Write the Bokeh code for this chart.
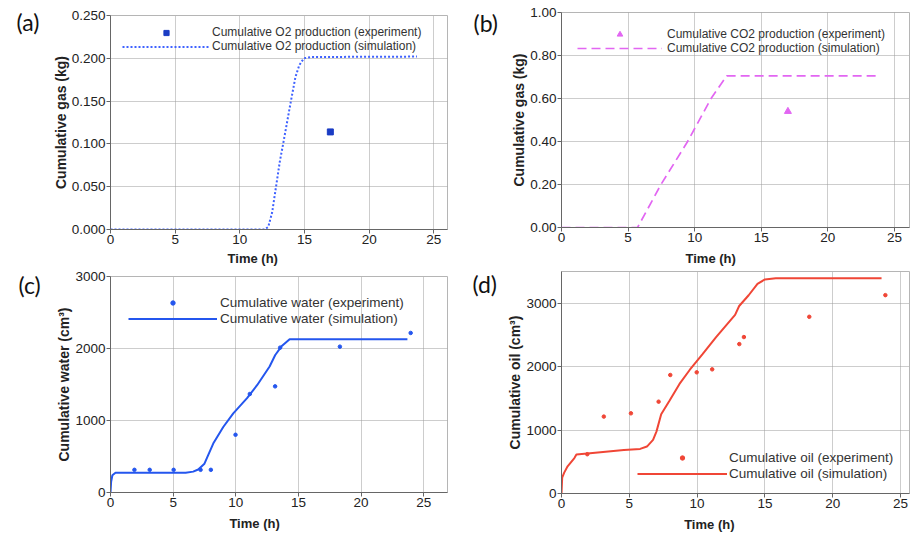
from bokeh.plotting import figure
from bokeh.layouts import row, column
from bokeh.models import Legend, LegendItem, Label, FixedTicker, NumeralTickFormatter, Range1d
from bokeh.embed import file_html
from bokeh.resources import INLINE

# ---------------- data ----------------
x_ticks = [0, 5, 10, 15, 20, 25]

# (a) O2
o2_exp_t = [17.0]
o2_exp_v = [0.114]
o2_sim_t = [0, 5.7, 11.9, 12.2, 12.5, 12.8, 13.1, 13.35, 13.65, 13.95, 14.3, 14.6, 14.95, 15.5, 23.7]
o2_sim_v = [0, 0, 0, 0.003, 0.02, 0.05, 0.08, 0.10, 0.125, 0.15, 0.178, 0.192, 0.200, 0.2015, 0.202]
o2_y_ticks = [0, 0.05, 0.10, 0.15, 0.20, 0.25]

# (b) CO2
co2_exp_t = [17.0]
co2_exp_v = [0.54]
co2_sim_t = [0, 5.71, 7.47, 9.47, 11.23, 12.4, 23.7]
co2_sim_v = [0, 0, 0.20, 0.40, 0.60, 0.705, 0.705]
co2_y_ticks = [0, 0.2, 0.4, 0.6, 0.8, 1.0]

# (c) water
water_exp_t = [1.91, 3.13, 5.04, 7.19, 8.01, 9.98, 11.12, 13.14, 13.54, 18.31, 23.96]
water_exp_v = [315, 315, 315, 315, 315, 802, 1368, 1474, 2012, 2026, 2216]
water_sim_t = [0, 0.05, 0.15, 0.4, 6.0, 6.6, 7.0, 7.5, 8.2, 9.0, 9.8, 10.9, 11.7, 12.7, 13.15, 13.65, 14.3, 23.7]
water_sim_v = [0, 150, 240, 275, 275, 290, 320, 400, 680, 910, 1100, 1310, 1490, 1750, 1910, 2030, 2130, 2130]
water_y_ticks = [0, 1000, 2000, 3000]

# (d) oil
oil_exp_t = [1.9, 3.12, 5.12, 7.16, 8.02, 9.97, 11.11, 13.11, 13.45, 18.27, 23.88]
oil_exp_v = [620, 1214, 1266, 1450, 1871, 1913, 1960, 2359, 2470, 2790, 3132]
oil_sim_t = [0, 0.05, 0.2, 0.45, 0.95, 1.1, 2.1, 4.6, 5.8, 6.3, 6.75, 7.0, 7.35, 7.95, 8.7, 9.45, 10.4,
             11.4, 12.8, 13.1, 13.8, 14.45, 15.0, 15.8, 23.6]
oil_sim_v = [0, 250, 330, 430, 560, 615, 636, 688, 704, 741, 846, 977, 1250, 1460, 1730, 1950, 2200,
             2470, 2820, 2960, 3130, 3310, 3380, 3400, 3400]
oil_y_ticks = [0, 1000, 2000, 3000]

FONT = "Liberation Sans"


def make_fig(w, h, bl, br, bt, bb, xend, yend, yticks, yfmt, ytitle):
    p = figure(width=w, height=h, output_backend="svg", toolbar_location=None,
               x_range=Range1d(0, xend), y_range=Range1d(0, yend),
               min_border_left=bl, min_border_right=br, min_border_top=bt, min_border_bottom=bb)
    p.outline_line_color = "#b5b5b5"
    p.background_fill_color = "white"
    p.border_fill_color = "white"
    p.xaxis.ticker = FixedTicker(ticks=x_ticks)
    p.yaxis.ticker = FixedTicker(ticks=yticks)
    p.yaxis.formatter = NumeralTickFormatter(format=yfmt)
    for ax in (p.xaxis[0], p.yaxis[0]):
        ax.axis_line_color = "#666666"
        ax.major_tick_line_color = "#666666"
        ax.major_tick_out = 4
        ax.major_tick_in = 0
        ax.minor_tick_line_color = None
        ax.major_label_standoff = 1
        ax.major_label_text_font = FONT
        ax.major_label_text_font_size = "13.5px"
        ax.major_label_text_color = "#222222"
    p.yaxis.axis_label = ytitle
    p.yaxis.axis_label_text_font = FONT
    p.yaxis.axis_label_text_font_size = "14px"
    p.yaxis.axis_label_text_font_style = "bold"
    p.yaxis.axis_label_text_color = "#222222"
    p.yaxis.axis_label_standoff = 0
    for g in (p.xgrid[0], p.ygrid[0]):
        g.grid_line_color = "#9a9a9a"
        g.grid_line_dash = "1 1"
        g.grid_line_width = 1
    return p


def add_texts(p, tag, tag_x, tag_y, xt_x, xt_y):
    p.add_layout(Label(x=tag_x, y=tag_y, x_units="screen", y_units="screen", text=tag,
                       text_font="Lato", text_font_size="23px", text_color="#111111",
                       text_baseline="middle", text_align="left"), "left")
    p.add_layout(Label(x=xt_x, y=xt_y, x_units="data", y_units="screen", text="Time (h)",
                       text_font=FONT, text_font_size="13px", text_font_style="bold",
                       text_color="#222222", text_baseline="middle", text_align="center"), "below")


def add_legend(p, items, lx, ly, gw, gh, lh, sp, standoff, fs):
    lg = Legend(items=items, location=(lx, ly), padding=0, margin=0, spacing=sp,
                glyph_width=gw, glyph_height=gh, label_height=lh, label_standoff=standoff,
                border_line_color=None, background_fill_alpha=0,
                label_text_font=FONT, label_text_font_size=fs, label_text_color="#333333")
    p.add_layout(lg, "center")


# ---------------- (a) ----------------
pa = make_fig(457, 266, 110, 10, 15, 37, 26.06, 0.25, o2_y_ticks, "0.000", "Cumulative gas (kg)")
ra_s = pa.line(o2_sim_t, o2_sim_v, line_color="#3f62ff", line_width=2, line_dash="2 2")
ra_e = pa.scatter(o2_exp_t, o2_exp_v, marker="square", size=6, color="#1a3cc4")
add_legend(pa, [LegendItem(label="Cumulative O2 production (experiment)", renderers=[ra_e]),
                LegendItem(label="Cumulative O2 production (simulation)", renderers=[ra_s])],
           12, 176, 88, 13, 13, -2, 2, "12px")
add_texts(pa, "(a)", -10, 208, 11.0, 3.5)

# ---------------- (b) ----------------
pb = make_fig(457, 266, 104, 5, 12, 39, 26.13, 1.0, co2_y_ticks, "0.00", "Cumulative gas (kg)")
rb_s = pb.line(co2_sim_t, co2_sim_v, line_color="#e266f2", line_width=1.7, line_dash="9 5")
rb_e = pb.scatter(co2_exp_t, co2_exp_v, marker="triangle", size=7, color="#e266f2")
add_legend(pb, [LegendItem(label="Cumulative CO2 production (experiment)", renderers=[rb_e]),
                LegendItem(label="Cumulative CO2 production (simulation)", renderers=[rb_s])],
           16, 172, 85, 14, 14, -1, 5, "12px")
add_texts(pb, "(b)", -11, 205, 11.2, 1.5)

# ---------------- (c) ----------------
pc = make_fig(457, 267, 110, 9, 10, 41, 26.9, 3000, water_y_ticks, "0", "Cumulative water (cm³)")
rc_s = pc.line(water_sim_t, water_sim_v, line_color="#2456ee", line_width=2)
rc_e = pc.scatter(water_exp_t, water_exp_v, marker="circle", size=3.5, color="#2456ee")
add_legend(pc, [LegendItem(label="Cumulative water (experiment)", renderers=[rc_e]),
                LegendItem(label="Cumulative water (simulation)", renderers=[rc_s])],
           18, 166, 89, 11, 16, 0, 3, "13.5px")
add_texts(pc, "(c)", -13, 208, 11.5, 1.5)

# ---------------- (d) ----------------
pd_ = make_fig(457, 267, 104, 2, 5, 40, 25.66, 3505, oil_y_ticks, "0", "Cumulative oil (cm³)")
rd_s = pd_.line(oil_sim_t, oil_sim_v, line_color="#f04636", line_width=2)
rd_e = pd_.scatter(oil_exp_t, oil_exp_v, marker="circle", size=3.5, color="#f04636")
add_legend(pd_, [LegendItem(label="Cumulative oil (experiment)", renderers=[rd_e]),
                 LegendItem(label="Cumulative oil (simulation)", renderers=[rd_s])],
           76, 12, 90, 11, 16, 0, 2, "13.5px")
add_texts(pd_, "(d)", -7, 210, 10.9, 1.5)

layout = row(column(pa, pc), column(pb, pd_))
open("out.html", "w").write(file_html(layout, INLINE))
